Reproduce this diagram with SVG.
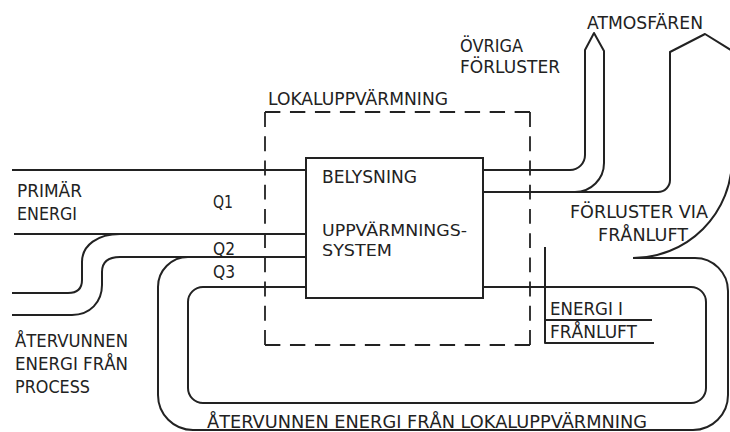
<svg xmlns="http://www.w3.org/2000/svg" width="730" height="432" viewBox="0 0 730 432">
<style>
.ln{fill:none;stroke:#222;stroke-width:2;stroke-linejoin:round;stroke-linecap:butt}
.ds{fill:none;stroke:#222;stroke-width:1.8;stroke-dasharray:16 10}
.t{font-family:"DejaVu Sans","Liberation Sans",sans-serif;font-size:17.5px;fill:#222}
.s{font-size:16.5px}
</style>
<rect width="730" height="432" fill="#fff"/>
<g id="connectors">
<path class="ln" d="M12 170 H306"/>
<path class="ln" d="M14 234 H306"/>
<path class="ln" d="M12 293 H68 Q82 293 82 280 V262 C82 245 98 234 120 234"/>
<path class="ln" d="M12 315 H72 C90 315 102 302 102 285 V272 C102 262 108 257 120 257 H306"/>
<path class="ln" d="M306 287 H203 A15 15 0 0 0 188 302 V388 A15 15 0 0 0 203 403 H691 A15 15 0 0 0 706 388 V302 A15 15 0 0 0 691 287 H483"/>
<path class="ln" d="M188 257 A30 30 0 0 0 158 287 V395 A35 35 0 0 0 193 430 H693 A35 35 0 0 0 728 395 V291 A33 33 0 0 0 695 258 H633"/>
<path class="ln" d="M633 258 A99 99 0 0 0 732 159 L742 57 L705 34 L670 52 V180 A12 12 0 0 1 658 192 H483"/>
<path class="ln" d="M483 170 H570 A15 15 0 0 0 585 155 V50 L594 33 L604 51 V163 A29 29 0 0 1 575 192"/>
<path class="ln" d="M545 247 V343 H654 M545 320 H652"/>
</g>
<g id="node-system">
<rect x="306" y="158" width="177" height="140" fill="#fff" stroke="#222" stroke-width="2"/>
<text class="t" x="322" y="183" textLength="95" lengthAdjust="spacingAndGlyphs">BELYSNING</text>
<text class="t s" x="322" y="236" textLength="145" lengthAdjust="spacingAndGlyphs">UPPVÄRMNINGS-</text>
<text class="t s" x="322" y="256" textLength="70" lengthAdjust="spacingAndGlyphs">SYSTEM</text>
</g>
<g id="node-lokaluppvarmning">
<path class="ds" pathLength="276" d="M265 112 H530"/>
<path class="ds" pathLength="250" d="M530 112 V345"/>
<path class="ds" pathLength="276" d="M530 345 H265"/>
<path class="ds" pathLength="250" d="M265 345 V112"/>
<text class="t" x="268" y="105" textLength="180" lengthAdjust="spacingAndGlyphs">LOKALUPPVÄRMNING</text>
</g>
<g id="node-primar">
<text class="t" x="17" y="197" textLength="65" lengthAdjust="spacingAndGlyphs">PRIMÄR</text>
<text class="t" x="17" y="220" textLength="60" lengthAdjust="spacingAndGlyphs">ENERGI</text>
</g>
<g id="node-q">
<text class="t" x="213" y="208" textLength="20" lengthAdjust="spacingAndGlyphs">Q1</text>
<text class="t" x="213" y="255" textLength="22" lengthAdjust="spacingAndGlyphs">Q2</text>
<text class="t" x="213" y="278" textLength="22" lengthAdjust="spacingAndGlyphs">Q3</text>
</g>
<g id="node-process">
<text class="t" x="15" y="347" textLength="113" lengthAdjust="spacingAndGlyphs">ÅTERVUNNEN</text>
<text class="t" x="15" y="370" textLength="113" lengthAdjust="spacingAndGlyphs">ENERGI FRÅN</text>
<text class="t" x="15" y="393" textLength="75" lengthAdjust="spacingAndGlyphs">PROCESS</text>
</g>
<g id="node-ovriga">
<text class="t" x="460" y="52" textLength="63" lengthAdjust="spacingAndGlyphs">ÖVRIGA</text>
<text class="t" x="460" y="73" textLength="100" lengthAdjust="spacingAndGlyphs">FÖRLUSTER</text>
</g>
<g id="node-atmosfaren">
<text class="t" x="587" y="29" textLength="116" lengthAdjust="spacingAndGlyphs">ATMOSFÄREN</text>
</g>
<g id="node-franluft-forluster">
<text class="t" x="570" y="218" textLength="138" lengthAdjust="spacingAndGlyphs">FÖRLUSTER VIA</text>
<text class="t" x="598" y="241" textLength="90" lengthAdjust="spacingAndGlyphs">FRÅNLUFT</text>
</g>
<g id="node-energi-franluft">
<text class="t" x="550" y="315" textLength="73" lengthAdjust="spacingAndGlyphs">ENERGI I</text>
<text class="t" x="550" y="338" textLength="87" lengthAdjust="spacingAndGlyphs">FRÅNLUFT</text>
</g>
<g id="node-atervunnen-lokal">
<text class="t" x="207" y="428" textLength="440" lengthAdjust="spacingAndGlyphs">ÅTERVUNNEN ENERGI FRÅN LOKALUPPVÄRMNING</text>
</g>
</svg>
